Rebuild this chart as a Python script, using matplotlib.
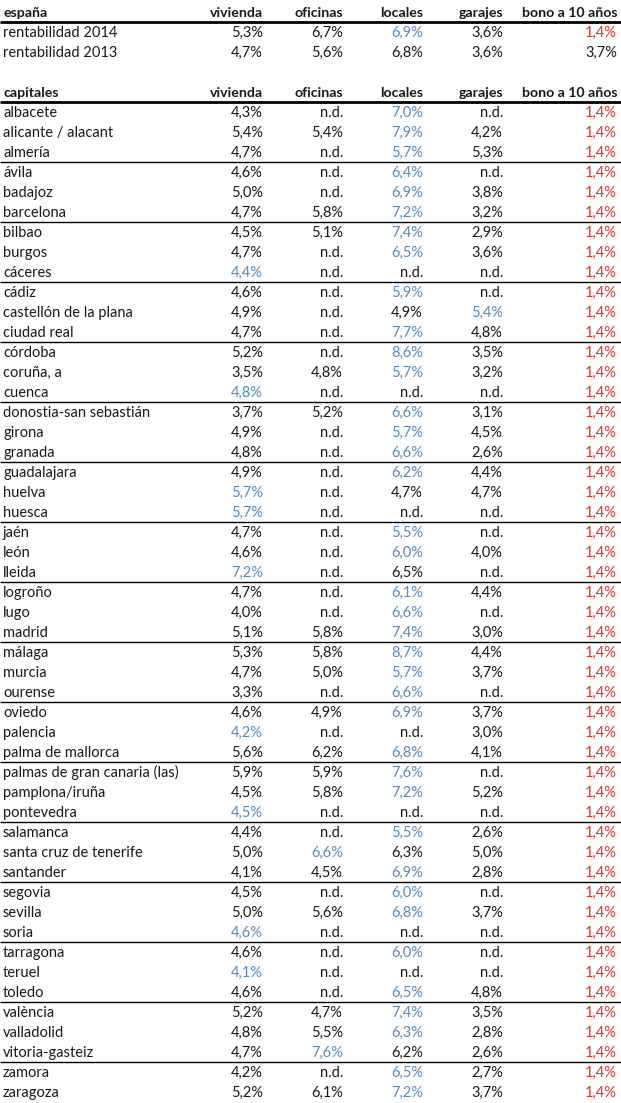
import matplotlib
matplotlib.use("Agg")
import matplotlib.pyplot as plt

plt.rcParams['font.family'] = ['Lato', 'DejaVu Sans']

columns = ["vivienda", "oficinas", "locales", "garajes", "bono a 10 años"]

spain_labels = ["rentabilidad 2014", "rentabilidad 2013"]
spain_vivienda = [5.3, 4.7]
spain_oficinas = [6.7, 5.6]
spain_locales = [6.9, 6.8]
spain_garajes = [3.6, 3.6]
spain_bono = [1.4, 3.7]
spain_highlight = [True, False]

cities = ["albacete", "alicante / alacant", "almería", "ávila", "badajoz", "barcelona",
          "bilbao", "burgos", "cáceres", "cádiz", "castellón de la plana", "ciudad real",
          "córdoba", "coruña, a", "cuenca", "donostia-san sebastián", "girona", "granada",
          "guadalajara", "huelva", "huesca", "jaén", "león", "lleida",
          "logroño", "lugo", "madrid", "málaga", "murcia", "ourense",
          "oviedo", "palencia", "palma de mallorca", "palmas de gran canaria (las)",
          "pamplona/iruña", "pontevedra", "salamanca", "santa cruz de tenerife", "santander",
          "segovia", "sevilla", "soria", "tarragona", "teruel", "toledo",
          "valència", "valladolid", "vitoria-gasteiz", "zamora", "zaragoza"]
N = None
vivienda = [4.3, 5.4, 4.7, 4.6, 5.0, 4.7, 4.5, 4.7, 4.4, 4.6, 4.9, 4.7, 5.2, 3.5, 4.8,
            3.7, 4.9, 4.8, 4.9, 5.7, 5.7, 4.7, 4.6, 7.2, 4.7, 4.0, 5.1, 5.3, 4.7, 3.3,
            4.6, 4.2, 5.6, 5.9, 4.5, 4.5, 4.4, 5.0, 4.1, 4.5, 5.0, 4.6, 4.6, 4.1, 4.6,
            5.2, 4.8, 4.7, 4.2, 5.2]
oficinas = [N, 5.4, N, N, N, 5.8, 5.1, N, N, N, N, N, N, 4.8, N,
            5.2, N, N, N, N, N, N, N, N, N, N, 5.8, 5.8, 5.0, N,
            4.9, N, 6.2, 5.9, 5.8, N, N, 6.6, 4.5, N, 5.6, N, N, N, N,
            4.7, 5.5, 7.6, N, 6.1]
locales = [7.0, 7.9, 5.7, 6.4, 6.9, 7.2, 7.4, 6.5, N, 5.9, 4.9, 7.7, 8.6, 5.7, N,
           6.6, 5.7, 6.6, 6.2, 4.7, N, 5.5, 6.0, 6.5, 6.1, 6.6, 7.4, 8.7, 5.7, 6.6,
           6.9, N, 6.8, 7.6, 7.2, N, 5.5, 6.3, 6.9, 6.0, 6.8, N, 6.0, N, 6.5,
           7.4, 6.3, 6.2, 6.5, 7.2]
garajes = [N, 4.2, 5.3, N, 3.8, 3.2, 2.9, 3.6, N, N, 5.4, 4.8, 3.5, 3.2, N,
           3.1, 4.5, 2.6, 4.4, 4.7, N, N, 4.0, N, 4.4, N, 3.0, 4.4, 3.7, N,
           3.7, 3.0, 4.1, N, 5.2, N, 2.6, 5.0, 2.8, N, 3.7, N, N, N, 4.8,
           3.5, 2.8, 2.6, 2.7, 3.7]
bono = [1.4] * len(cities)

BLUE = "#5b89b8"
RED = "#e2302b"
BLACK = "#1a1a1a"
FS = 10.5
FS_HEAD = 10.2

col_right = [263, 343, 423, 503, 617]
left_x = 3
BASE_OFF = 5  # baseline offset below row centre

fig = plt.figure(figsize=(6.21, 11.03), dpi=100)
ax = fig.add_axes([0, 0, 1, 1])
ax.set_xlim(0, 621)
ax.set_ylim(1103, 0)
ax.axis("off")


def fmt(v):
    return "n.d." if v is None else f"{v:.1f}%".replace(".", ",")


def draw_header(y, title):
    ax.text(left_x, y + BASE_OFF, title, ha="left", va="baseline", fontsize=FS_HEAD,
            fontweight="bold", color=BLACK)
    for c, x in zip(columns, col_right):
        ax.text(x, y + BASE_OFF, c, ha="right", va="baseline", fontsize=FS_HEAD,
                fontweight="bold", color=BLACK)
    ax.plot([0, 621], [y + 10, y + 10], color="black", lw=2.0, solid_capstyle="butt")


def draw_row(y, label, vals, b, highlight):
    ax.text(left_x, y + BASE_OFF, label, ha="left", va="baseline", fontsize=FS, color=BLACK)
    nums = [v for v in vals if v is not None]
    mx = max(nums) if nums else None
    for v, x in zip(vals, col_right[:4]):
        col = BLUE if (highlight and v is not None and v == mx) else BLACK
        ax.text(x, y + BASE_OFF, fmt(v), ha="right", va="baseline", fontsize=FS, color=col)
    ax.text(col_right[4], y + BASE_OFF, fmt(b), ha="right", va="baseline", fontsize=FS,
            color=RED if highlight else BLACK)


pitch = 20
y0 = 12
draw_header(y0, "españa")
for i, lab in enumerate(spain_labels):
    draw_row(y0 + pitch * (i + 1), lab,
             [spain_vivienda[i], spain_oficinas[i], spain_locales[i], spain_garajes[i]],
             spain_bono[i], spain_highlight[i])

y1 = y0 + pitch * 4
draw_header(y1, "capitales")
for i, c in enumerate(cities):
    y = y1 + pitch * (i + 1)
    draw_row(y, c, [vivienda[i], oficinas[i], locales[i], garajes[i]], bono[i], True)
    if (i + 1) % 3 == 0 and i < len(cities) - 1:
        ax.plot([0, 621], [y + 10, y + 10], color="black", lw=1.0, solid_capstyle="butt")

fig.savefig("out.png", dpi=100, facecolor="white")
